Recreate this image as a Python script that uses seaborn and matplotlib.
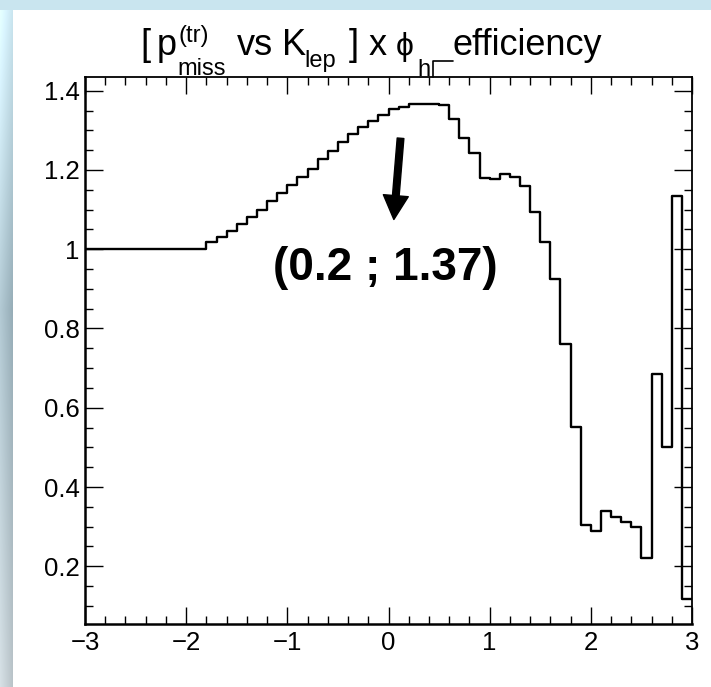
import numpy as np
import matplotlib
matplotlib.use("Agg")
import matplotlib.pyplot as plt
from matplotlib.lines import Line2D
import seaborn as sns
from matplotlib.ticker import MultipleLocator, FuncFormatter

# ---------------- data ----------------
x_min, x_max, n_bins = -3.0, 3.0, 60
efficiency = [
    1.000, 1.000, 1.000, 1.000, 1.000, 1.000, 1.000, 1.000, 1.000, 1.000, 1.000, 1.000,
    1.017, 1.030, 1.047, 1.063, 1.081, 1.099, 1.121, 1.141, 1.162, 1.182,
    1.203, 1.227, 1.249, 1.271, 1.291, 1.309, 1.324, 1.339, 1.353, 1.360,
    1.366, 1.366, 1.366, 1.364, 1.328, 1.280, 1.243, 1.180, 1.177, 1.189,
    1.182, 1.160, 1.094, 1.017, 0.926, 0.760, 0.552, 0.305, 0.288, 0.340,
    0.324, 0.311, 0.300, 0.222, 0.684, 0.502, 1.135, 0.118,
]
y_min, y_max = 0.0536, 1.4338
# title pieces: (text, left px, baseline px, fontsize)
title_pieces = [
    ("[", 140, 55, 26),
    ("p", 157, 55, 26),
    ("(tr)", 178, 42, 17),
    ("miss", 177, 75, 17),
    ("vs", 237, 55, 26),
    ("K", 282, 55, 26),
    ("lep", 304, 67, 17),
    ("]", 349, 55, 26),
    ("x", 369, 55, 26),
    ("\u03d5", 396, 55, 23),
    ("h", 417, 76, 17),
    ("efficiency", 453, 55, 26),
]
annot_text = "(0.2 ; 1.37)"
annot_tip = (0.053, 1.075)
annot_tail = (0.119, 1.280)
annot_text_pos = (-1.14, 0.922)

# ---------------- style ----------------
sns.set_style("ticks")
plt.rcParams["font.family"] = ["Liberation Sans", "DejaVu Sans"]

W, H, DPI = 711, 687, 100
fig = plt.figure(figsize=(W / DPI, H / DPI), dpi=DPI)

# slide background (light blue band on top/left, white page)
bg = fig.add_axes([0, 0, 1, 1], zorder=-10)
img = np.ones((H, W, 3))
yy = np.linspace(0, 1, H)[:, None]
xx = np.arange(W)[None, :]
top_col = np.array([0.79, 0.90, 0.94])
mid_col = np.array([0.58, 0.67, 0.71])
bot_col = np.array([0.72, 0.76, 0.78])
band = np.where(yy[..., None] < 0.45,
                top_col + (mid_col - top_col) * (yy[..., None] / 0.45),
                mid_col + (bot_col - mid_col) * ((yy[..., None] - 0.45) / 0.55))
band = np.broadcast_to(band, (H, W, 3)).copy()
shade = np.clip(1 - xx / 13.0, 0, 1)[..., None] * 0.12
band = np.clip(band + shade, 0, 1)
mask = (xx < 13) | (np.arange(H)[:, None] < 10)
img[mask] = band[mask]
img[:10, :, :] = top_col
bg.imshow(img, aspect="auto", interpolation="bilinear")
bg.set_axis_off()

ax = fig.add_axes([85 / W, 1 - 624.3 / H, (692 - 85) / W, (624.3 - 77.3) / H])
ax.set_facecolor("white")

centers = np.linspace(x_min, x_max, n_bins + 1)[:-1] + (x_max - x_min) / n_bins / 2
sns.histplot(x=centers, weights=efficiency, bins=n_bins, binrange=(x_min, x_max),
             element="step", fill=False, color="black", linewidth=1.7, ax=ax)

ax.set_xlim(x_min, x_max)
ax.set_ylim(y_min, y_max)
ax.set_xlabel("")
ax.set_ylabel("")

ax.xaxis.set_major_locator(MultipleLocator(1))
ax.xaxis.set_minor_locator(MultipleLocator(0.2))
ax.yaxis.set_major_locator(MultipleLocator(0.2))
ax.yaxis.set_minor_locator(MultipleLocator(0.05))
fmt = FuncFormatter(lambda v, p: f"{v:g}".replace("-", "\u2212"))
ax.xaxis.set_major_formatter(fmt)
ax.yaxis.set_major_formatter(fmt)

ax.tick_params(which="both", direction="in", top=True, right=True, color="black",
               labelsize=18.5, labelcolor="black")
ax.tick_params(axis="x", which="major", length=12, width=1.0, pad=5)
ax.tick_params(axis="x", which="minor", length=6, width=1.0)
ax.tick_params(axis="y", which="major", length=13, width=1.0, pad=4)
ax.tick_params(axis="y", which="minor", length=6, width=1.0)
for side, sp in ax.spines.items():
    sp.set_color("black")
    sp.set_linewidth(1.8 if side in ("left", "bottom") else 1.3)
    sp.set_visible(True)

# annotation
ax.annotate("", xy=annot_tip, xytext=annot_tail,
            arrowprops=dict(arrowstyle="simple,head_length=0.86,head_width=0.9,tail_width=0.24",
                            fc="black", ec="black", shrinkA=0, shrinkB=0, mutation_scale=20))
ax.text(annot_text_pos[0], annot_text_pos[1], annot_text, fontsize=33, fontweight="bold",
        ha="left", va="baseline", color="black")

# title built from pieces (ROOT-like sub/superscript placement)
for txt, px, py, fs in title_pieces:
    fig.text(px / W, 1 - py / H, txt, fontsize=fs, ha="left", va="baseline", color="black")
# the mis-rendered "perp" glyph after the h subscript
fig.add_artist(Line2D([433 / W, 433 / W, 453 / W], [1 - 77 / H, 1 - 61 / H, 1 - 61 / H],
                      color="black", linewidth=1.2, transform=fig.transFigure))

fig.savefig("out.png", dpi=DPI)
